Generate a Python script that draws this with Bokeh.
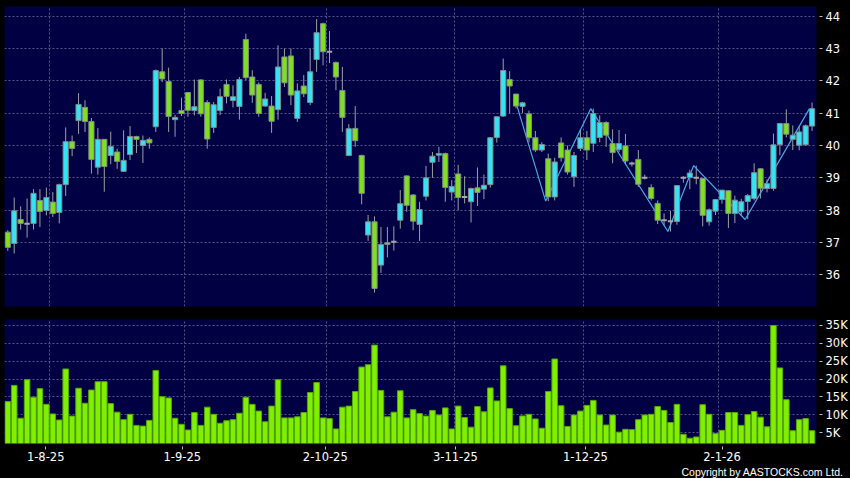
from bokeh.plotting import figure
from bokeh.layouts import column
from bokeh.models import (ColumnDataSource, Range1d, FixedTicker, PrintfTickFormatter,
                          CustomJSTickFormatter, Title, GlobalInlineStyleSheet)
from bokeh.embed import file_html
from bokeh.resources import INLINE

# ---------------- data ----------------
opens = [37.32, 36.97, 37.71, 37.58, 37.59, 38.30, 37.99, 38.25, 37.93, 38.79,
         40.12, 40.77, 41.18, 40.74, 39.33, 40.19, 39.69, 39.80, 39.20, 39.72,
         40.28, 40.00, 40.19, 40.58, 42.28, 41.98, 40.80, 41.08, 41.64, 41.08,
         42.03, 41.33, 40.56, 41.08, 41.89, 41.39, 41.21, 43.28, 42.12, 41.89,
         41.22, 41.22, 41.11, 42.74, 42.77, 40.84, 41.84, 41.33, 42.66, 43.77,
         42.90, 42.57, 41.70, 39.69, 40.53, 39.69, 37.23, 37.64, 36.30, 36.99,
         37.02, 37.69, 39.06, 38.47, 37.56, 38.43, 39.48, 39.70, 39.75, 38.56,
         39.12, 38.41, 38.26, 38.69, 38.65, 38.79, 40.25, 40.91, 42.04, 41.59,
         41.21, 40.98, 40.24, 39.86, 39.59, 38.41, 40.08, 39.86, 39.03, 39.91,
         40.24, 40.07, 40.25, 40.71, 40.06, 39.88, 39.99, 39.44, 39.57, 39.00,
         38.70, 38.21, 37.69, 37.66, 37.65, 39.00, 39.01, 39.00, 38.98, 37.64,
         37.97, 38.33, 38.60, 37.90, 37.95, 38.27, 38.36, 39.28, 38.67, 38.67,
         40.03, 40.68, 40.19, 40.01, 40.02, 40.60]
highs = [37.38, 38.39, 38.12, 38.36, 38.65, 38.65, 38.70, 38.56, 38.82, 40.56,
         40.31, 41.62, 41.40, 40.85, 40.54, 40.20, 40.43, 39.90, 40.47, 40.60,
         40.30, 40.31, 40.25, 42.35, 43.00, 42.41, 40.95, 41.48, 41.66, 42.04,
         42.05, 41.40, 41.35, 41.76, 42.04, 41.86, 42.12, 43.46, 42.33, 41.95,
         41.63, 41.53, 43.10, 43.00, 43.00, 41.92, 42.18, 43.00, 43.91, 43.80,
         43.54, 42.60, 42.43, 40.66, 41.22, 39.72, 37.85, 37.81, 37.48, 37.48,
         37.50, 38.62, 39.08, 38.50, 38.26, 39.37, 39.80, 39.96, 39.78, 38.93,
         39.40, 39.05, 38.70, 39.32, 39.10, 40.26, 40.89, 42.69, 42.30, 41.60,
         41.35, 41.08, 40.45, 40.10, 39.75, 39.62, 40.25, 40.00, 39.80, 40.51,
         40.45, 41.14, 40.93, 40.75, 40.50, 40.48, 40.36, 39.50, 39.86, 39.10,
         38.80, 38.30, 37.90, 37.98, 38.77, 39.05, 39.25, 39.38, 39.00, 38.05,
         38.35, 38.62, 38.62, 38.45, 38.35, 38.50, 39.45, 39.30, 38.95, 40.37,
         40.70, 41.12, 40.62, 40.60, 40.65, 41.33]
lows = [36.74, 36.66, 37.40, 37.15, 37.40, 37.48, 37.84, 37.79, 37.59, 38.44,
        39.67, 40.36, 40.42, 39.13, 39.10, 38.57, 39.42, 39.28, 39.18, 39.55,
        39.77, 39.46, 39.90, 40.42, 41.96, 40.42, 40.27, 40.91, 40.89, 40.93,
        40.89, 39.90, 40.39, 40.94, 41.30, 41.18, 40.80, 42.02, 41.32, 40.89,
        41.20, 40.39, 40.80, 41.81, 41.25, 40.73, 41.50, 41.25, 42.28, 42.48,
        42.55, 41.71, 40.42, 39.67, 39.96, 38.18, 37.05, 35.45, 36.06, 36.54,
        36.75, 37.43, 37.95, 37.38, 37.05, 38.30, 39.00, 39.49, 38.26, 38.30,
        38.00, 38.21, 37.62, 38.13, 38.34, 38.70, 40.09, 40.88, 40.99, 41.15,
        41.00, 40.10, 39.80, 39.80, 38.28, 38.30, 39.50, 39.10, 38.72, 39.83,
        39.55, 39.80, 40.10, 39.96, 39.45, 39.80, 39.42, 39.35, 38.72, 38.95,
        38.30, 37.57, 37.52, 37.34, 37.55, 38.85, 38.65, 38.80, 37.50, 37.52,
        37.85, 38.20, 37.45, 37.60, 37.85, 37.72, 38.30, 38.36, 38.55, 38.60,
        39.70, 40.25, 39.86, 39.85, 40.00, 40.45]
closes = [36.85, 37.98, 37.59, 37.58, 38.52, 37.96, 38.39, 37.90, 38.79, 40.12,
          39.91, 41.27, 40.74, 39.57, 40.19, 39.35, 39.97, 39.51, 39.54, 40.28,
          40.19, 40.16, 40.08, 42.32, 42.06, 40.90, 40.87, 40.99, 41.09, 41.20,
          40.98, 40.20, 41.26, 41.51, 41.52, 41.51, 42.04, 42.10, 41.56, 40.99,
          41.44, 40.75, 42.43, 41.94, 41.56, 41.69, 41.60, 42.28, 43.49, 42.90,
          42.90, 42.12, 40.87, 40.52, 40.15, 38.52, 37.64, 35.58, 36.94, 36.94,
          37.02, 38.20, 38.15, 37.66, 38.02, 39.00, 39.67, 39.75, 38.70, 38.73,
          38.39, 38.41, 38.67, 38.55, 38.77, 40.24, 40.89, 42.32, 41.84, 41.22,
          41.32, 40.24, 39.86, 40.03, 38.41, 39.49, 39.62, 39.18, 39.69, 40.24,
          39.86, 40.99, 40.71, 40.32, 39.78, 40.06, 39.52, 39.44, 38.80, 39.00,
          38.36, 37.69, 37.69, 37.66, 38.76, 39.00, 39.15, 39.00, 37.84, 38.01,
          38.33, 38.62, 37.90, 38.31, 38.26, 38.45, 39.16, 38.68, 38.82, 40.02,
          40.68, 40.35, 40.32, 40.42, 40.61, 41.14]
volumes_k = [13.66, 18.2, 9.0, 19.8, 14.9, 17.3, 12.9, 10.2, 8.5, 22.8,
             9.6, 17.4, 13.2, 16.9, 19.25, 19.25, 13.1, 10.7, 8.6, 10.1,
             7.0, 6.8, 8.4, 22.4, 15.05, 14.7, 9.0, 7.3, 5.7, 10.6,
             7.0, 12.1, 10.1, 7.6, 8.3, 8.6, 10.4, 14.9, 12.9, 11.0,
             8.0, 12.4, 19.8, 9.1, 9.1, 9.4, 10.6, 16.2, 19.0, 9.1,
             8.9, 6.0, 12.1, 12.4, 16.5, 23.35, 24.0, 29.5, 16.8, 9.4,
             10.7, 16.7, 9.1, 11.4, 10.3, 9.6, 11.2, 9.9, 11.9, 6.0,
             12.4, 9.2, 6.5, 12.3, 10.8, 17.5, 13.85, 23.7, 11.7, 6.9,
             9.65, 10.1, 8.8, 6.2, 16.5, 25.6, 12.5, 6.7, 9.9, 11.0,
             12.6, 14.0, 9.9, 7.1, 9.9, 5.1, 5.9, 5.8, 8.6, 9.9,
             10.1, 12.3, 11.2, 7.8, 12.9, 4.5, 3.4, 3.75, 12.8, 10.1,
             4.7, 5.6, 10.6, 10.6, 7.0, 10.0, 10.9, 9.3, 6.6, 35.0,
             23.1, 14.2, 5.5, 8.6, 8.9, 5.5]

tick_labels = ["1-8-25", "1-9-25", "2-10-25", "3-11-25", "1-12-25", "2-1-26"]
tick_bars = [6, 27, 49, 69, 89, 110]          # bar index of each labelled date
price_ticks = [36, 37, 38, 39, 40, 41, 42, 43, 44]
vol_ticks = [5, 10, 15, 20, 25, 30, 35]          # thousands

zz_bars = [79, 84, 91, 103, 107, 115, 125]
zz_prices = [41.58, 38.28, 41.14, 37.34, 39.38, 37.71, 41.14]

copyright_text = "Copyright by AASTOCKS.com Ltd."

# ---------------- styling ----------------
BG = "#000000"
PANEL = "#000042"
GRID = "#55558a"
UP = "#35e3f4"
DOWN = "#80e020"
EDGE = "#7d8c8c"
WICK = "#9aa0a0"
VOL = "#80f000"
VOL_EDGE = "#56a800"
TXT = "#ffffff"
FONT = "DejaVu Sans"

n = len(closes)
xs = list(range(n))

up = dict(x=[], top=[], bottom=[])
dn = dict(x=[], top=[], bottom=[])
dj = dict(x0=[], x1=[], y=[])
for i in xs:
    o, c = opens[i], closes[i]
    if c > o:
        up["x"].append(i); up["top"].append(c); up["bottom"].append(o)
    elif c < o:
        dn["x"].append(i); dn["top"].append(o); dn["bottom"].append(c)
    else:
        dj["x0"].append(i - 0.42); dj["x1"].append(i + 0.42); dj["y"].append(o)

x_range = Range1d(-0.51, 125.69)

def style(p):
    p.background_fill_color = PANEL
    p.border_fill_color = BG
    p.outline_line_color = None
    p.min_border_left = 4
    p.min_border_right = 32
    for g in (p.xgrid, p.ygrid):
        g.grid_line_color = GRID
        g.grid_line_dash = "2 2"
        g.grid_line_width = 1
    p.xgrid.ticker = FixedTicker(ticks=[b + 0.5 for b in tick_bars])
    ax = p.yaxis[0]
    ax.axis_line_color = None
    ax.major_tick_line_color = "#c0c0c0"
    ax.major_tick_in = -3
    ax.major_tick_out = 6
    ax.minor_tick_line_color = None
    ax.major_label_standoff = 3
    ax.major_label_text_color = TXT
    ax.major_label_text_font = FONT
    ax.major_label_text_font_size = "11.5px"

# ---------------- price panel ----------------
p1 = figure(width=850, height=312, x_range=x_range, y_range=Range1d(35.02, 44.30),
            x_axis_location=None, y_axis_location="right",
            toolbar_location=None, output_backend="svg")
style(p1)
p1.min_border_top = 6
p1.min_border_bottom = 6
p1.yaxis.ticker = FixedTicker(ticks=price_ticks)
p1.ygrid.ticker = FixedTicker(ticks=price_ticks)

p1.segment(x0=xs, y0=lows, x1=xs, y1=highs, line_color=WICK, line_width=1)
p1.line(x=[b - 0.4 for b in zz_bars], y=zz_prices, line_color="#4aa6e6", line_width=1.2)
p1.vbar(x="x", top="top", bottom="bottom", width=0.8, source=ColumnDataSource(up),
        fill_color=UP, line_color=EDGE, line_width=1)
p1.vbar(x="x", top="top", bottom="bottom", width=0.8, source=ColumnDataSource(dn),
        fill_color=DOWN, line_color=EDGE, line_width=1)
p1.segment(x0="x0", y0="y", x1="x1", y1="y", source=ColumnDataSource(dj),
           line_color="#a8a8a8", line_width=2)

# ---------------- volume panel ----------------
p2 = figure(width=850, height=166, x_range=x_range, y_range=Range1d(1.92, 36.68),
            x_axis_location="below", y_axis_location="right",
            toolbar_location=None, output_backend="svg")
style(p2)
p2.min_border_top = 7
p2.min_border_bottom = 35
p2.yaxis.ticker = FixedTicker(ticks=vol_ticks)
p2.ygrid.ticker = FixedTicker(ticks=vol_ticks)
p2.yaxis.formatter = PrintfTickFormatter(format="%dK")

p2.vbar(x=xs, top=volumes_k, bottom=0, width=0.86, fill_color=VOL,
        line_color=VOL_EDGE, line_width=1)

# date axis (the label axis of the source runs slightly faster than the bars)
tick_pos = [round(b - 0.11 + (b - tick_bars[0]) * 0.0107, 3) for b in tick_bars]
xa = p2.xaxis[0]
xa.ticker = FixedTicker(ticks=tick_pos)
xa.formatter = CustomJSTickFormatter(args=dict(pos=tick_pos, labels=tick_labels), code="""
    let best = 0;
    for (let i = 0; i < pos.length; i++) {
        if (Math.abs(pos[i] - tick) < Math.abs(pos[best] - tick)) best = i;
    }
    return labels[best];
""")
xa.axis_line_color = None
xa.major_tick_line_color = "#c0c0c0"
xa.major_tick_in = -3
xa.major_tick_out = 6
xa.minor_tick_line_color = None
xa.major_label_standoff = 2
xa.major_label_text_color = TXT
xa.major_label_text_font = FONT
xa.major_label_text_font_size = "11.5px"

p2.add_layout(Title(text=copyright_text, align="right", offset=-27, standoff=0,
                    text_color=TXT, text_font="Liberation Sans",
                    text_font_size="10.5px", text_font_style="normal"), "below")

layout = column(p1, p2, spacing=0,
                stylesheets=[GlobalInlineStyleSheet(
                    css="html, body { margin: 0; padding: 0; background: #000000; overflow: hidden; }")])

open("out.html", "w").write(file_html(layout, INLINE))
